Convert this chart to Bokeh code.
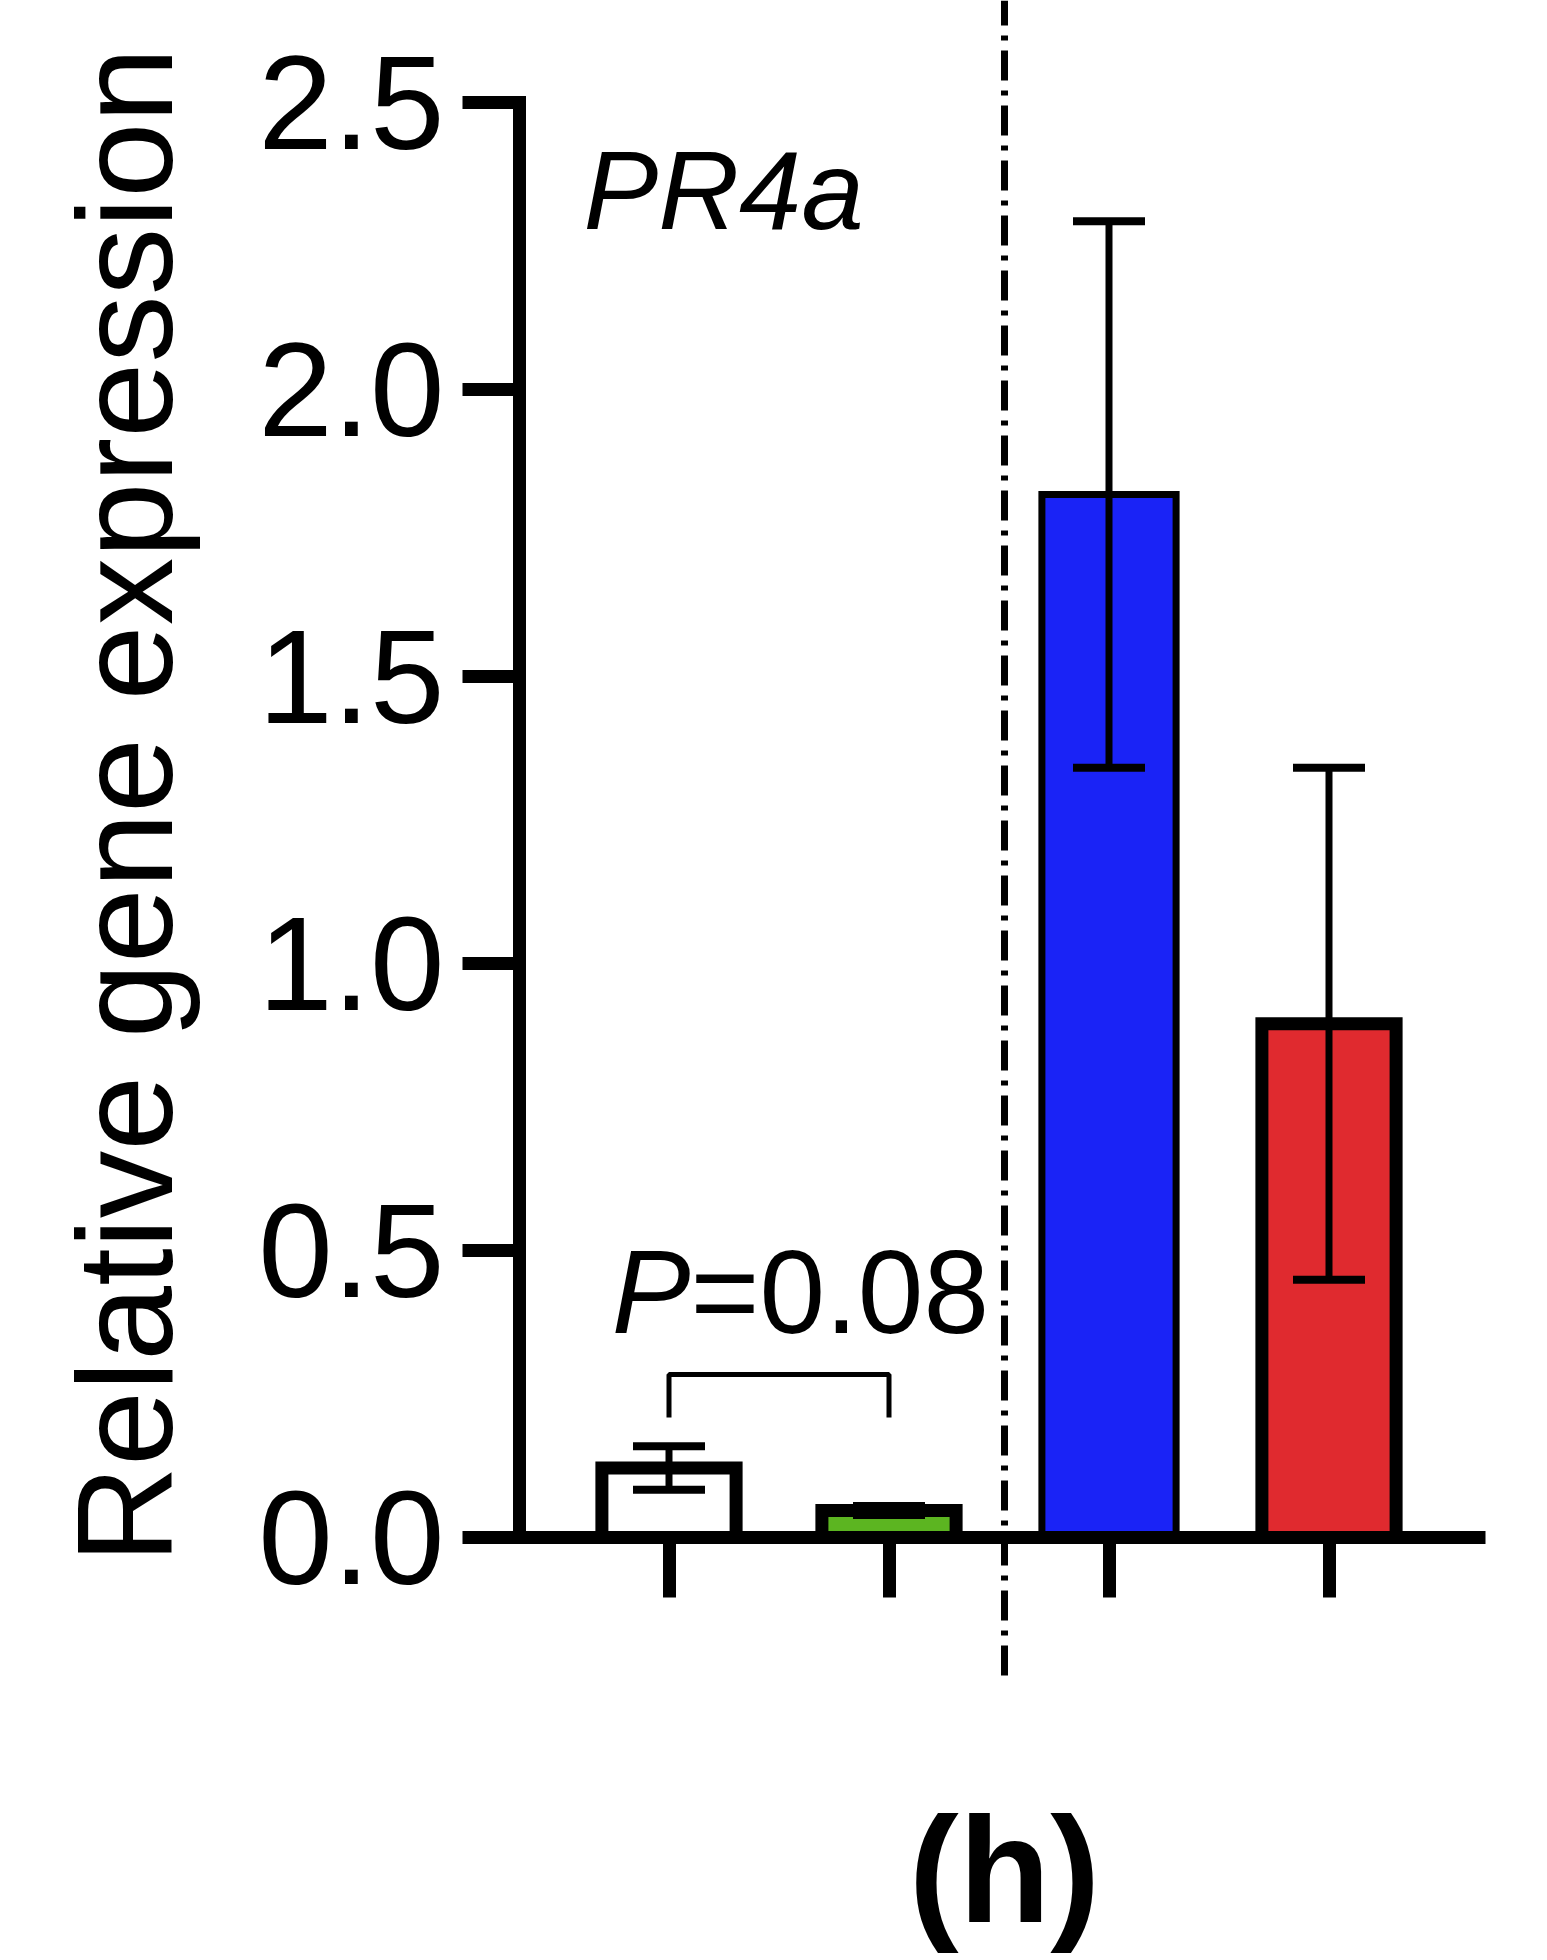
import math
from bokeh.plotting import figure
from bokeh.models import (LinearAxis, FixedTicker, PrintfTickFormatter, Range1d,
                          ColumnDataSource, Whisker, TeeHead)
from bokeh.core.properties import value
from bokeh.embed import file_html
from bokeh.resources import INLINE

# ---------------- data ----------------
positions = [1, 2, 3, 4]
means = [0.121, 0.047, 1.817, 0.895]
errors = [0.038, 0.008, 0.476, 0.446]
bar_colors = ["#FFFFFF", "#5CB521", "#1A23F6", "#E02A2F"]
y_ticks = [0.0, 0.5, 1.0, 1.5, 2.0, 2.5]
gene_name = "PR4a"
p_label_italic = "P"
p_label_rest = "=0.08"
y_label = "Relative gene expression"
panel_label = "(h)"

# ---------------- layout helpers (pixel <-> data) ----------------
W, H = 1547, 1960
PX_X1 = 668.5      # pixel x of category 1
PX_PER_X = 220.0   # pixels per category step
PX_Y0 = 1537.0     # pixel y (from top) of value 0
PX_PER_Y = 574.0   # pixels per unit
BASE_SHIFT = 0.35  # empirical baseline correction (fraction of font size)


def px2x(px):
    return 1 + (px - PX_X1) / PX_PER_X


def px2y(py):
    return (PX_Y0 - py) / PX_PER_Y


FONT = "Liberation Sans"

p = figure(width=W, height=H,
           x_range=Range1d(px2x(0), px2x(W)),
           y_range=Range1d(px2y(H), px2y(0)),
           x_axis_type=None, y_axis_type=None,
           output_backend="svg", toolbar_location=None,
           min_border=0, outline_line_color=None,
           background_fill_color="white", border_fill_color="white")

# ---------------- axes ----------------
yax = LinearAxis(fixed_location=px2x(519), bounds=(0, 2.5),
                 ticker=FixedTicker(ticks=y_ticks),
                 formatter=PrintfTickFormatter(format="%.1f"),
                 axis_line_width=13, axis_line_color="black", axis_line_cap="square",
                 major_tick_line_width=13, major_tick_line_color="black",
                 major_tick_out=57, major_tick_in=0,
                 minor_tick_out=0, minor_tick_in=0,
                 major_label_text_font=FONT, major_label_text_font_size="134px",
                 major_label_text_color="black", major_label_standoff=18)
p.add_layout(yax, "left")

xax = LinearAxis(fixed_location=0, bounds=(px2x(519), px2x(1485)),
                 ticker=FixedTicker(ticks=positions),
                 axis_line_width=13, axis_line_color="black",
                 major_tick_line_width=13, major_tick_line_color="black",
                 major_tick_out=60, major_tick_in=0,
                 minor_tick_out=0, minor_tick_in=0,
                 major_label_text_font_size="0px", major_label_text_alpha=0)
p.add_layout(xax, "below")

# ---------------- bars ----------------
outline_w = [7 if c == "#1A23F6" else 13 for c in bar_colors]
bars = ColumnDataSource(dict(x=positions, top=means, color=bar_colors, lw=outline_w))
p.vbar(x="x", top="top", bottom=0, width=0.61, source=bars,
       fill_color="color", line_color="black", line_width="lw", line_join="miter")

# ---------------- error bars ----------------
err = ColumnDataSource(dict(
    x=positions,
    upper=[m + e for m, e in zip(means, errors)],
    lower=[m - e for m, e in zip(means, errors)],
))
wh = Whisker(base="x", upper="upper", lower="lower", source=err, dimension="height",
             line_width=7, line_color="black",
             upper_head=TeeHead(size=72, line_width=8, line_color="black"),
             lower_head=TeeHead(size=72, line_width=8, line_color="black"),
             level="overlay")
p.add_layout(wh)

# ---------------- significance bracket ----------------
br_top = px2y(1374)
br_leg = px2y(1417)
p.line(x=[positions[0], positions[0], positions[1], positions[1]],
       y=[br_leg, br_top, br_top, br_leg], line_width=5, line_color="black")

p_base = px2y(1333 - BASE_SHIFT * 118)
p.text(x=[px2x(690)], y=[p_base], text=[p_label_italic],
       text_font=value(FONT), text_font_style="italic", text_font_size="118px",
       text_align="right", text_baseline="alphabetic", text_color="black")
p.text(x=[px2x(690)], y=[p_base], text=[p_label_rest],
       text_font=value(FONT), text_font_size="118px",
       text_align="left", text_baseline="alphabetic", text_color="black")

# ---------------- divider ----------------
div_x = px2x(1004)
p.line(x=[div_x, div_x], y=[px2y(1675), px2y(0)], line_width=7,
       line_color="black", line_dash="30 10 5 10")

# ---------------- gene name ----------------
p.text(x=[px2x(583)], y=[px2y(229 - BASE_SHIFT * 112)], text=[gene_name],
       text_font=value(FONT), text_font_style="italic", text_font_size="112px",
       text_align="left", text_baseline="alphabetic", text_color="black")

# ---------------- y-axis title ----------------
p.text(x=[px2x(172 - BASE_SHIFT * 135)], y=[px2y(805)], text=[y_label], angle=math.pi / 2,
       text_font=value(FONT), text_font_size="135px",
       text_align="center", text_baseline="alphabetic", text_color="black")

# ---------------- panel label ----------------
p.text(x=[px2x(1004)], y=[px2y(1922 - BASE_SHIFT * 150)], text=[panel_label],
       text_font=value(FONT), text_font_style="bold", text_font_size="150px",
       text_align="center", text_baseline="alphabetic", text_color="black")

open("out.html", "w").write(file_html(p, INLINE))
